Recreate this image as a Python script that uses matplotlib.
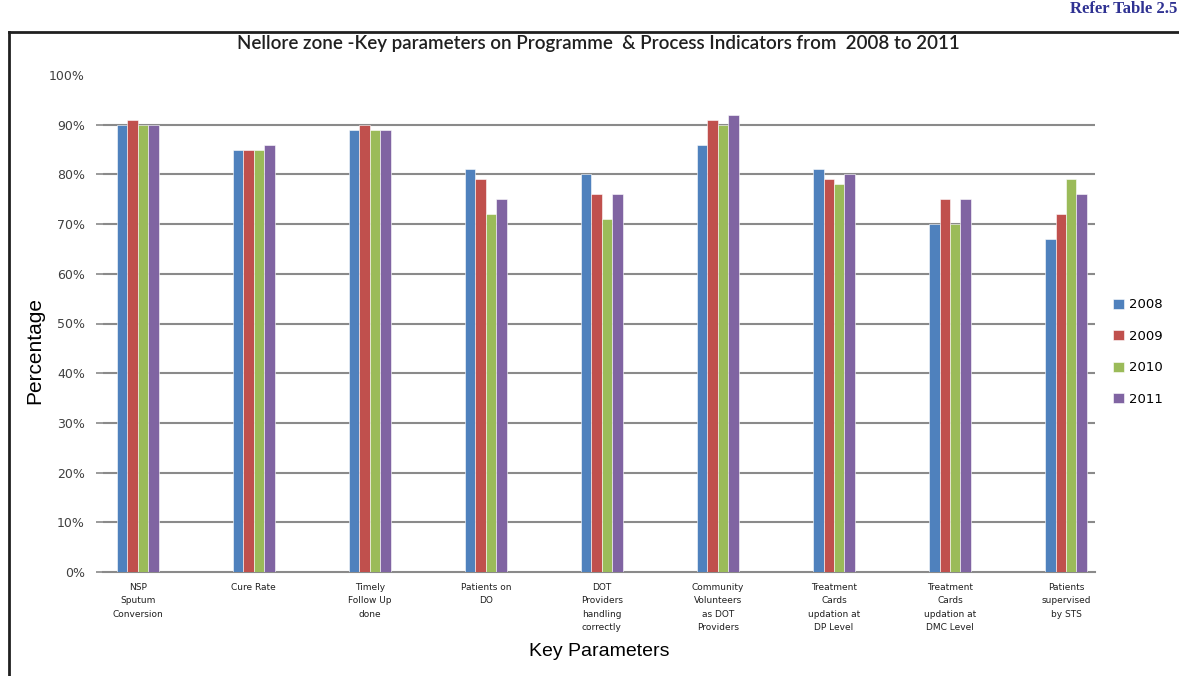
import matplotlib
matplotlib.use("Agg")
import matplotlib.pyplot as plt
import numpy as np
from matplotlib.lines import Line2D
from matplotlib.ticker import FuncFormatter

categories = [
    "NSP\nSputum\nConversion",
    "Cure Rate",
    "Timely\nFollow Up\ndone",
    "Patients on\nDO",
    "DOT\nProviders\nhandling\ncorrectly",
    "Community\nVolunteers\nas DOT\nProviders",
    "Treatment\nCards\nupdation at\nDP Level",
    "Treatment\nCards\nupdation at\nDMC Level",
    "Patients\nsupervised\nby STS",
]
years = ["2008", "2009", "2010", "2011"]
v2008 = [90, 85, 89, 81, 80, 86, 81, 70, 67]
v2009 = [91, 85, 90, 79, 76, 91, 79, 75, 72]
v2010 = [90, 85, 89, 72, 71, 90, 78, 70, 79]
v2011 = [90, 86, 89, 75, 76, 92, 80, 75, 76]
series = [v2008, v2009, v2010, v2011]
colors = ["#4F81BD", "#C0504D", "#9BBB59", "#8064A2"]

W, H = 1179, 676
fig = plt.figure(figsize=(W / 100, H / 100), dpi=100)
ax = fig.add_axes([103 / W, 1 - 572 / H, (1095 - 103) / W, (572 - 75) / H])

x = np.arange(len(categories))
bw = 0.09
for i, (vals, c, yr) in enumerate(zip(series, colors, years)):
    ax.bar(x + (i - 1.5) * bw, np.array(vals) / 100.0, width=bw, color=c,
           label=yr, edgecolor="white", linewidth=0.4, zorder=3)

ax.set_xlim(-0.3, 8.25)
ax.set_ylim(0, 1.0)
ax.set_yticks(np.arange(0, 1.01, 0.1))
ax.yaxis.set_major_formatter(FuncFormatter(lambda v, p: f"{int(round(v * 100))}%"))
ax.grid(axis="y", color="#8a8a8a", linewidth=1.5, zorder=0)
ax.get_ygridlines()[-1].set_visible(False)
ax.get_ygridlines()[0].set_visible(False)
ax.tick_params(axis="y", length=5, color="#8a8a8a", width=1.2, labelsize=9,
               labelcolor="#404040", pad=8)
ax.yaxis.get_major_ticks()[-1].tick1line.set_visible(False)
for s in ["top", "right", "left"]:
    ax.spines[s].set_visible(False)
ax.spines["bottom"].set_color("#8a8a8a")
ax.spines["bottom"].set_linewidth(1.5)

ax.set_xticks(x)
ax.set_xticklabels(categories, fontsize=6.5, linespacing=1.6, color="#202020")
ax.tick_params(axis="x", length=0, pad=8)

fig.text(35 / W, 1 - 350 / H, "Percentage", rotation=90, ha="center", va="center",
         fontsize=15, family="Liberation Sans")
ax.set_xlabel("Key Parameters", fontsize=14, family="Liberation Sans", labelpad=8)

fig.text(598 / W, 1 - 44 / H,
         "Nellore zone -Key parameters on Programme  & Process Indicators from  2008 to 2011",
         ha="center", va="center", fontsize=13.5, family="Lato", fontweight="semibold",
         color="#202020")

fig.text(1177 / W, 1 - 1 / H, "Refer Table 2.5", ha="right", va="top",
         fontsize=12, color="#2E3192", fontweight="bold", family="Liberation Serif")

leg = fig.legend(loc="center left", bbox_to_anchor=(1108 / W, 1 - 352 / H),
                 frameon=False, fontsize=9.5, handlelength=0.8, handleheight=0.8,
                 labelspacing=1.4, handletextpad=0.4, borderaxespad=0)

fig.add_artist(Line2D([9 / W, 9 / W], [0, 1 - 32 / H], transform=fig.transFigure,
                      color="#202020", linewidth=2))
fig.add_artist(Line2D([9 / W, 1], [1 - 32 / H, 1 - 32 / H], transform=fig.transFigure,
                      color="#202020", linewidth=2))

fig.savefig("out.png", dpi=100)
